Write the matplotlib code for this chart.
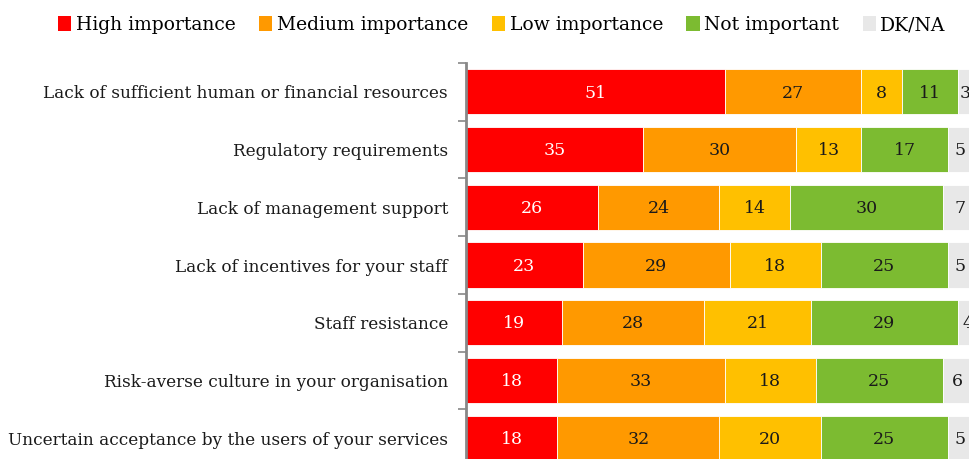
import matplotlib
matplotlib.use("Agg")
import matplotlib.pyplot as plt
import numpy as np
from matplotlib.patches import Patch

categories = [
    "Lack of sufficient human or financial resources",
    "Regulatory requirements",
    "Lack of management support",
    "Lack of incentives for your staff",
    "Staff resistance",
    "Risk-averse culture in your organisation",
    "Uncertain acceptance by the users of your services",
]
series_names = ["High importance", "Medium importance", "Low importance", "Not important", "DK/NA"]
high = [51, 35, 26, 23, 19, 18, 18]
medium = [27, 30, 24, 29, 28, 33, 32]
low = [8, 13, 14, 18, 21, 18, 20]
not_imp = [11, 17, 30, 25, 29, 25, 25]
dkna = [3, 5, 7, 5, 4, 6, 5]

colors = ["#FF0000", "#FF9900", "#FFC000", "#7CBB31", "#E8E8E8"]
text_colors = ["white", "#1a1a1a", "#1a1a1a", "#1a1a1a", "#1a1a1a"]

FONT = "DejaVu Serif"
plt.rcParams["font.family"] = FONT

fig = plt.figure(figsize=(9.7, 4.59), dpi=100)
ax = fig.add_axes([466 / 970, 1 - 467 / 459, (973 - 466) / 970, (467 - 63) / 459])

series = [high, medium, low, not_imp, dkna]
y = np.arange(len(categories))
left = np.zeros(len(categories))
for vals, col, tc, name in zip(series, colors, text_colors, series_names):
    vals = np.array(vals, dtype=float)
    ax.barh(y, vals, left=left, height=0.78, color=col, edgecolor="white",
            linewidth=0.6, label=name)
    for yi, (l, v) in enumerate(zip(left, vals)):
        ax.text(l + v / 2, yi + 0.02, f"{int(v)}", ha="center", va="center",
                color=tc, fontsize=12.5, clip_on=False)
    left += vals

ax.set_xlim(0, 100)
ax.set_ylim(len(categories) - 0.5, -0.5)
ax.set_yticks(y)
ax.set_yticklabels(categories, fontsize=12.2, color="#1a1a1a")
ax.tick_params(axis="y", which="major", length=0, pad=13)
ax.set_yticks(np.arange(-0.5, len(categories), 1.0), minor=True)
ax.tick_params(axis="y", which="minor", length=6, width=1.2, color="#888888")
ax.set_xticks([])
for s in ["top", "right", "bottom"]:
    ax.spines[s].set_visible(False)
ax.spines["left"].set_color("#888888")
ax.spines["left"].set_linewidth(2)

handles = [Patch(facecolor=c, edgecolor="none") for c in colors]
fig.legend(handles, series_names, loc="center", bbox_to_anchor=(502 / 970, 1 - 25 / 459),
           ncol=5, frameon=False, fontsize=13.5, handlelength=0.7, handleheight=0.9,
           handletextpad=0.25, columnspacing=1.25)

fig.savefig("out.png", dpi=100)
